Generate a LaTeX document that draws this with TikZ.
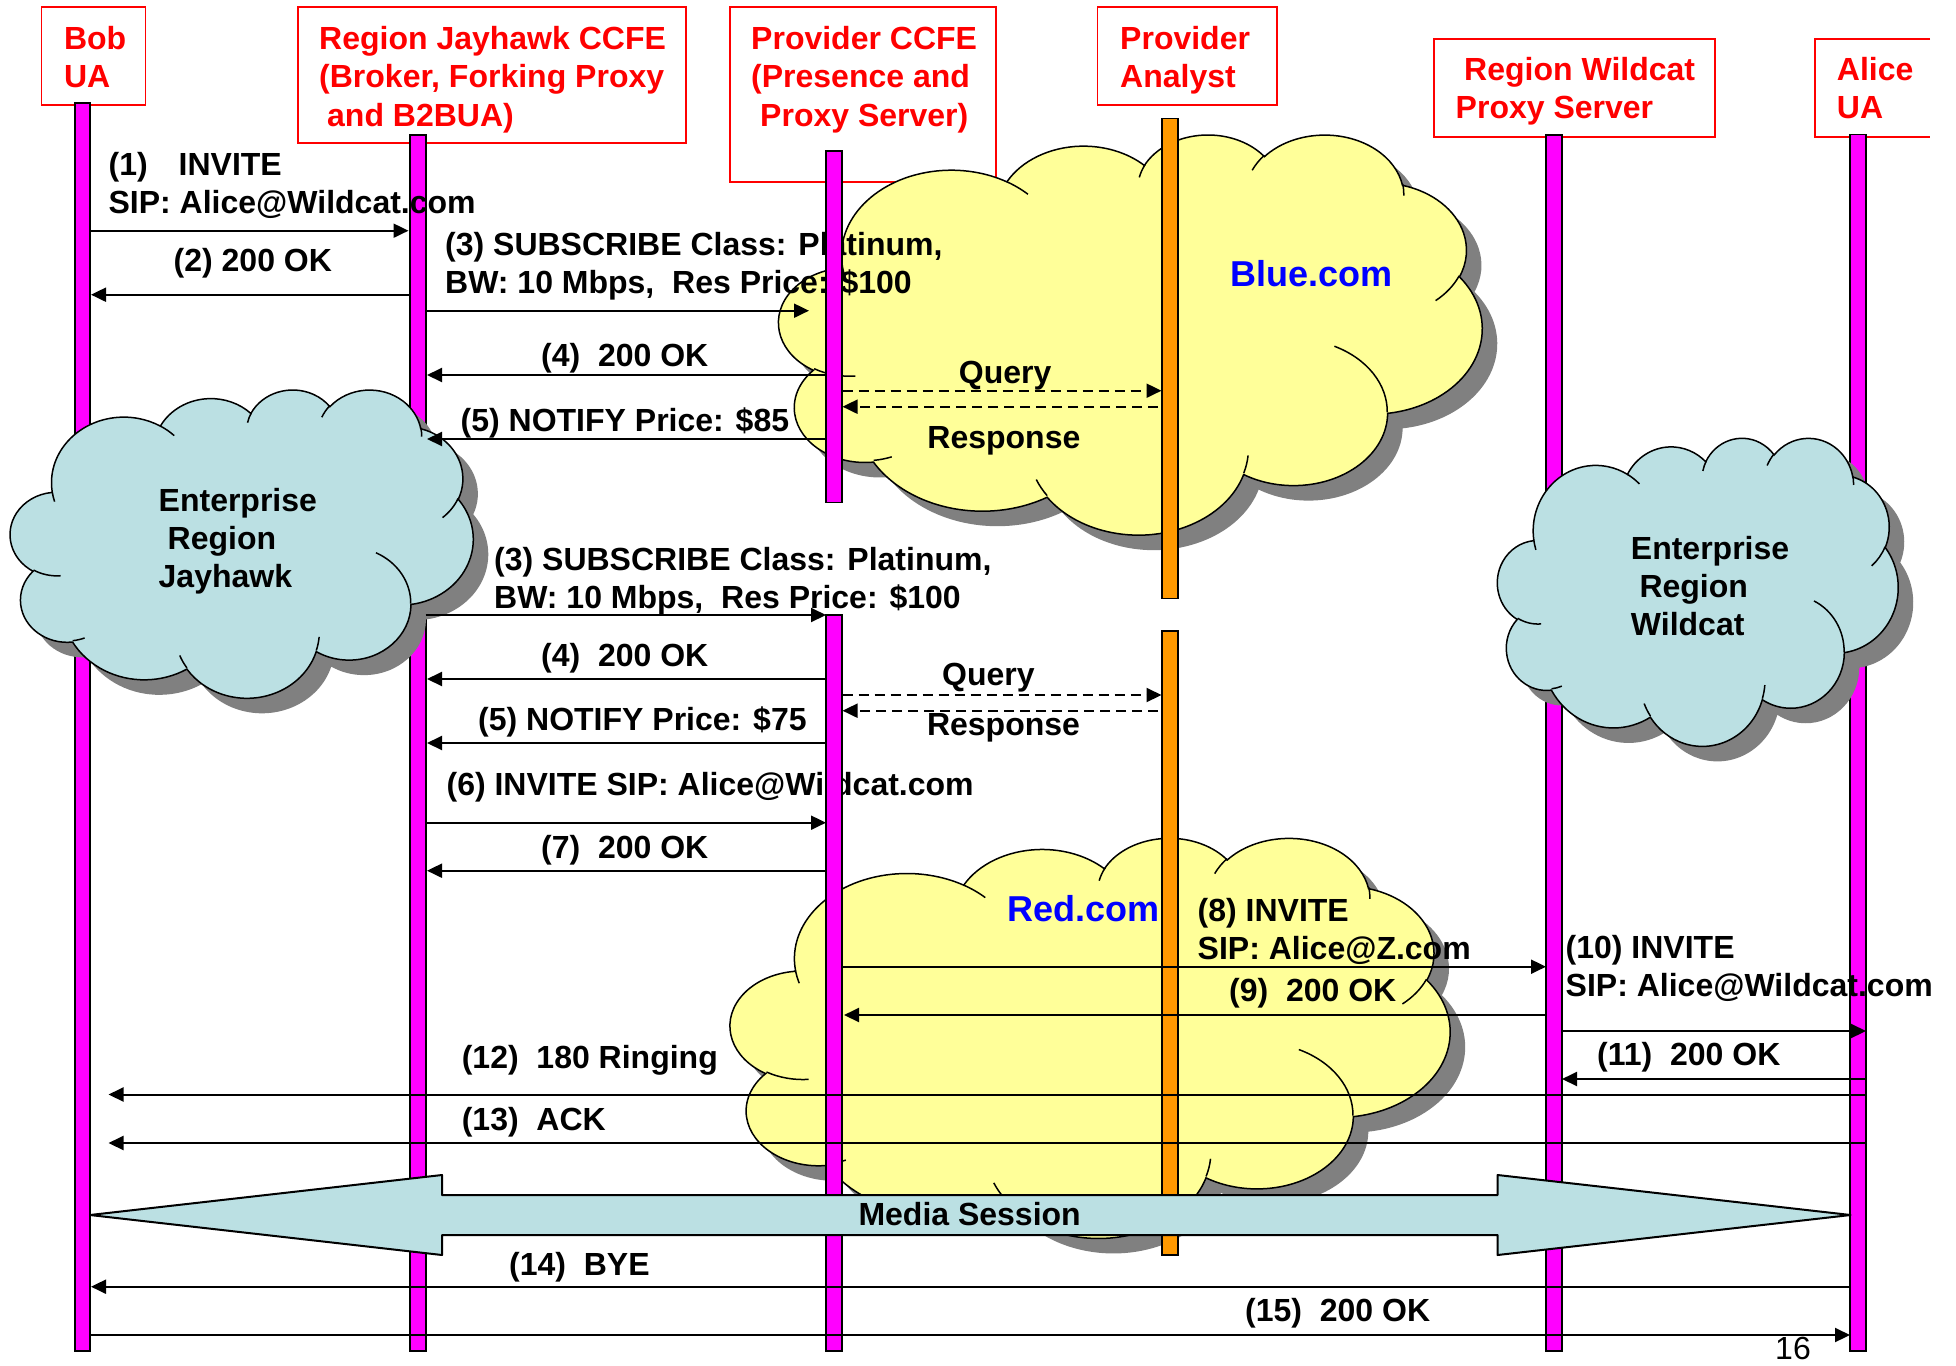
\documentclass[tikz,border=0pt]{standalone}
\usepackage{fontspec}
\setmainfont{Liberation Sans}
\usetikzlibrary{arrows.meta}
\definecolor{lifemag}{HTML}{FF00FF}
\definecolor{lifeorange}{HTML}{FF9900}
\definecolor{cloudyellow}{HTML}{FFFF99}
\definecolor{cloudblue}{HTML}{BBE0E3}
\definecolor{shadowgray}{HTML}{808080}
\definecolor{hdrred}{HTML}{FF0000}
\definecolor{linkblue}{HTML}{0000FF}

% PowerPoint cloud geometry (43200 units scaled by 1/10), visual angles -> parametric
\newcommand\ooprep[5]{%
  \pgfmathsetmacro\ooTa{atan2((#2)*sin(#4),(#3)*cos(#4))}%
  \pgfmathsetmacro\ooTb{atan2((#2)*sin((#4)+(#5)),(#3)*cos((#4)+(#5)))}%
  \pgfmathsetmacro\ooTd{mod((\ooTb)-(\ooTa)+720,360)}%
  \expandafter\xdef\csname ooarc#1\endcsname{arc[start angle=\ooTa,delta angle=\ooTd,x radius=#2pt,y radius=#3pt]}%
}
\ooprep{a}{675.3}{919.0}{-190.4875}{123.7805}
\ooprep{b}{533.3}{726.7}{-144.1024}{89.9452}
\ooprep{c}{436.5}{594.5}{-145.8079}{99.7230}
\ooprep{d}{485.7}{659.5}{-130.9861}{117.2417}
\ooprep{e}{533.3}{727.3}{-78.7089}{109.0269}
\ooprep{f}{677.5}{922.0}{-46.2673}{130.2690}
\ooprep{g}{578.5}{786.7}{0.6250}{114.0333}
\ooprep{h}{675.2}{921.5}{22.4516}{115.1726}
\ooprep{i}{772.0}{1054.3}{66.2426}{75.7110}
\ooprep{j}{436.0}{591.8}{-274.9421}{146.7356}
\ooprep{k}{434.5}{594.5}{-246.8285}{152.5189}
\ooprep{A}{434.5}{594.5}{86.7420}{26.4295}
\ooprep{B}{436.0}{591.8}{73.6105}{11.4475}
\ooprep{C}{675.2}{921.5}{137.6242}{14.0811}
\ooprep{D}{675.2}{921.5}{6.4533}{15.9984}
\ooprep{E}{578.5}{786.7}{-70.2924}{70.9174}
\ooprep{F}{533.3}{727.3}{30.3180}{27.7515}
\ooprep{G}{485.7}{659.5}{-13.7443}{14.8589}
\ooprep{H}{485.7}{659.5}{-149.1815}{18.1954}
\ooprep{I}{436.5}{594.5}{-163.4943}{17.6864}
\ooprep{J}{675.3}{919.0}{-66.7070}{12.3194}
\ooprep{K}{675.3}{919.0}{157.6544}{11.8582}
\def\cloudmain{(390pt,1437pt) \ooarca \ooarcb \ooarcc \ooarcd \ooarce \ooarcf \ooarcg \ooarch \ooarci \ooarcj \ooarck -- cycle}
\def\cloudinner{(469.3pt,2617.7pt) \ooarcA (692.8pt,3489.9pt) \ooarcB (1647.8pt,3909pt) \ooarcC (2882.7pt,3475.1pt) \ooarcD (3412.9pt,2295.4pt) \ooarcE (4179.8pt,1535.4pt) \ooarcF (3832.4pt,542.6pt) \ooarcG (2907.8pt,395.2pt) \ooarcH (2214.1pt,472pt) \ooarcI (1400pt,519.2pt) \ooarcJ (412.7pt,1578.9pt) \ooarcK}
\newcommand\drawcloud[5]{%
  \begin{scope}[shift={(#1+15,#2+15)},xscale=#3/4320,yscale=-#4/4320]
    \fill[cloudshadow] \cloudmain;
  \end{scope}
  \begin{scope}[shift={(#1,#2)},xscale=#3/4320,yscale=-#4/4320]
    \filldraw[cloudline,fill=#5] \cloudmain;
    \draw[cloudline] \cloudinner;
  \end{scope}}
\newcommand\msgline[5][msg]{\coordinate (#2s) at (#3,#5);\coordinate (#2e) at (#4,#5);\draw[#1] (#2s) -- (#2e);}

\begin{document}
\begin{tikzpicture}[x=1pt,y=-1pt,
  hdrbox/.style={draw=hdrred,line width=1.8pt},
  hdrtxt/.style={text=hdrred,font=\bfseries\fontsize{32}{38.4}\selectfont,anchor=base west,inner sep=0pt,align=left},
  lbl/.style={text=black,font=\bfseries\fontsize{32}{38}\selectfont,anchor=base west,inner sep=0pt,align=left},
  dom/.style={lbl,text=linkblue,font=\bfseries\fontsize{36}{40}\selectfont},
  lifebar/.style={fill=lifemag,draw=black,line width=1.6pt},
  analystbar/.style={fill=lifeorange,draw=black,line width=1.6pt},
  msg/.style={draw=black,line width=2pt,-{Triangle[length=15pt,width=14pt]}},
  qmsg/.style={msg,dash pattern=on 10pt off 6pt},
  cloudline/.style={draw=black,line width=1.5pt},
  cloudshadow/.style={fill=shadowgray},
  media/.style={fill=cloudblue,draw=black,line width=2pt,line join=round}]
\fill[white] (0,0) rectangle (1956,1365);
\useasboundingbox (0,0) rectangle (1956,1365);

% header boxes
\draw[hdrbox] (41.5,7.3) rectangle (145.4,105);
\draw[hdrbox] (298,7.3) rectangle (685.6,143.3);
\draw[hdrbox] (730.2,7.3) rectangle (996,181.7);
\draw[hdrbox] (1097.5,7.3) rectangle (1277,105);
\draw[hdrbox] (1434,39) rectangle (1715,136.7);
\draw[hdrbox] (1930,39) -- (1815,39) -- (1815,136.7) -- (1930,136.7);

% (multi-line nodes: base anchor = baseline of the last line)
\node[hdrtxt] (tbob) at (63.8,87.4) {Bob\\UA};
\node[hdrtxt] (tjay) at (319,126.1) {Region Jayhawk CCFE\\(Broker, Forking Proxy\\\hspace*{8pt}and B2BUA)};
\node[hdrtxt] (tccfe) at (751,126.1) {Provider CCFE\\(Presence and\\\hspace*{9pt}Proxy Server)};
\node[hdrtxt] (tana) at (1120,87.4) {Provider\\Analyst};
\node[hdrtxt] (twild) at (1455.5,118.4) {\hspace*{8.5pt}Region Wildcat\\Proxy Server};
\node[hdrtxt] (talice) at (1836.7,118.4) {Alice\\UA};

% lifelines under clouds
\path[lifebar] (75,103) rectangle (90,1351);
\path[lifebar] (410,135) rectangle (426,1351);
\path[lifebar] (1546,135) rectangle (1562,1351);
\path[lifebar] (1850,134.5) rectangle (1866,1351);

% clouds
\drawcloud{10.4}{389}{462.7}{308.2}{cloudblue}
\drawcloud{1497.6}{437.3}{400.5}{308}{cloudblue}
\drawcloud{779}{133.7}{703}{400}{cloudyellow}
\drawcloud{730.5}{837}{719.4}{400}{cloudyellow}

% labels
\node[lbl] (l1) at (108.4,213.5) {(1)\hspace{31pt}INVITE\\SIP: Alice@Wildcat.com};
\node[lbl] (l2) at (173.5,271.7) {(2) 200 OK};
\node[lbl] (l3) at (445,293) {(3) SUBSCRIBE Class: Platinum,\\BW: 10 Mbps,\ \ Res Price: \$100};
\node[lbl] (l4) at (541,366.7) {(4)\ \ 200 OK};
\node[lbl] (lq1) at (958.7,383.3) {Query};
\node[lbl] (lr1) at (927.2,448.3) {Response};
\node[lbl] (l5) at (460.5,431.7) {(5) NOTIFY Price: \$85};
\node[dom] (blue) at (1230.2,286.7) {Blue.com};
\node[lbl] (ejay) at (158.5,587.2) {Enterprise\\\hspace*{9pt}Region\\Jayhawk};
\node[lbl] (l3b) at (494,608.7) {(3) SUBSCRIBE Class: Platinum,\\BW: 10 Mbps,\ \ Res Price: \$100};
\node[lbl] (l4b) at (541,666.7) {(4)\ \ 200 OK};
\node[lbl] (lq2) at (942,685) {Query};
\node[lbl] (l5b) at (478,730) {(5) NOTIFY Price: \$75};
\node[lbl] (lr2) at (926.8,735) {Response};
\node[lbl] (l6) at (446.4,795) {(6) INVITE SIP: Alice@Wildcat.com};
\node[lbl] (l7) at (541,858) {(7)\ \ 200 OK};
\node[lbl] (ewild) at (1630.7,635.3) {Enterprise\\\hspace*{8.6pt}Region\\Wildcat};
\node[dom] (red) at (1007.5,921.7) {Red.com};
\node[lbl] (l8) at (1197.5,959.7) {(8) INVITE\\SIP: Alice@Z.com};
\node[lbl] (l10) at (1565.5,996.5) {(10) INVITE\\SIP: Alice@Wildcat.com};
\node[lbl] (l9) at (1229,1001.7) {(9)\ \ 200 OK};
\node[lbl] (l11) at (1597,1065) {(11)\ \ 200 OK};
\node[lbl] (l12) at (461.6,1068) {(12)\ \ 180 Ringing};
\node[lbl] (l13) at (461.6,1130) {(13)\ \ ACK};
\node[lbl] (l14) at (509,1275) {(14)\ \ BYE};
\node[lbl] (l15) at (1245,1321.7) {(15)\ \ 200 OK};

% lifelines over clouds
\path[lifebar] (826,151) rectangle (842,502.5);
\path[lifebar] (826,615) rectangle (842,1351);
\path[analystbar] (1162,118.3) rectangle (1178,598.3);
\path[analystbar] (1162,630.7) rectangle (1178,1255);

% messages
\msgline{m1}{89.5}{408.5}{230.7}
\msgline{m2}{409}{91}{294.7}
\msgline{m3}{425.5}{809}{310.7}
\msgline{m4}{826}{427}{375}
\msgline[qmsg]{q1}{842.5}{1161.5}{390.7}
\msgline[qmsg]{r1}{1158}{842.5}{406.7}
\msgline{m5}{826}{427}{439}
\msgline{m3b}{425.5}{826}{615}
\msgline{m4b}{826}{427}{679}
\msgline[qmsg]{q2}{842.5}{1161.5}{695}
\msgline[qmsg]{r2}{1158}{842.5}{710.7}
\msgline{m5b}{826}{427}{743}
\msgline{m6}{425.5}{826}{822.7}
\msgline{m7}{826}{427}{870.7}
\msgline{m8}{842.5}{1546}{966.7}
\msgline{m9}{1546}{844}{1015}
\msgline{m10}{1562}{1866}{1031}
\msgline{m11}{1866}{1562}{1079}
\msgline{m12}{1867}{108.5}{1094.5}
\msgline{m13}{1867}{108.5}{1143}
\msgline{m14}{1850}{91}{1286.7}
\msgline{m15}{90}{1850}{1335}

% media session
\draw[media] (90,1215) -- (442,1175) -- (442,1195) -- (1497.6,1195) -- (1497.6,1175) -- (1850.6,1215) -- (1497.6,1255) -- (1497.6,1235) -- (442,1235) -- (442,1255) -- cycle;
\node[lbl] (media) at (858.3,1225) {Media Session};

\node[anchor=base west,inner sep=0pt,font=\fontsize{32}{38}\selectfont] (pagenum) at (1775,1359) {16};
\end{tikzpicture}
\end{document}
